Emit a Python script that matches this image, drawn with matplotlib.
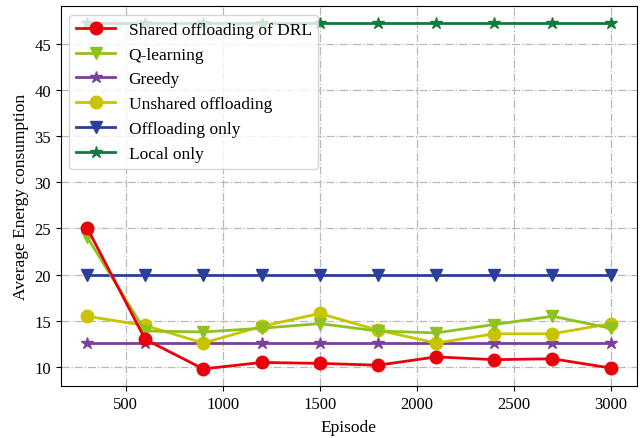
import matplotlib.pyplot as plt
import numpy as np

plt.rcParams['font.family'] = ['Liberation Serif', 'DejaVu Serif']

episodes = [300, 600, 900, 1200, 1500, 1800, 2100, 2400, 2700, 3000]
shared_drl = [25.1, 13.0, 9.8, 10.5, 10.4, 10.2, 11.1, 10.8, 10.9, 9.9]
q_learning = [24.1, 13.9, 13.8, 14.2, 14.7, 13.9, 13.7, 14.6, 15.5, 14.2]
greedy = [12.6] * 10
unshared = [15.5, 14.5, 12.6, 14.4, 15.8, 14.0, 12.6, 13.6, 13.6, 14.7]
offload_only = [20.0] * 10
local_only = [47.2] * 10

fig = plt.figure(figsize=(6.4, 4.39), dpi=100)
ax = fig.add_subplot(111)
ax.plot(episodes, shared_drl, "-o", color="#e8000b", lw=2, ms=9, label="Shared offloading of DRL", zorder=6)
ax.plot(episodes, q_learning, "-v", color="#8dc21f", lw=2, ms=9, label="Q-learning", zorder=5)
ax.plot(episodes, greedy, "-*", color="#7b3f9e", lw=2, ms=9, label="Greedy", zorder=3)
ax.plot(episodes, unshared, "-o", color="#c8c400", lw=2, ms=9, label="Unshared offloading", zorder=4)
ax.plot(episodes, offload_only, "-v", color="#2a3f98", lw=2, ms=9, label="Offloading only", zorder=3)
ax.plot(episodes, local_only, "-*", color="#127a3a", lw=2, ms=9, label="Local only", zorder=3)
ax.grid(True, ls="-.", color="#b8b8b8", lw=0.9)
ax.set_xticks([500, 1000, 1500, 2000, 2500, 3000])
ax.set_yticks([10, 15, 20, 25, 30, 35, 40, 45])
ax.tick_params(labelsize=12)
ax.set_xlabel("Episode", fontsize=12.5, labelpad=5)
ax.set_ylabel("Average Energy consumption", fontsize=12.5)
ax.legend(loc="upper left", fontsize=12.5, framealpha=0.8, handlelength=2.2)
plt.subplots_adjust(left=0.095, right=0.995, top=0.984, bottom=0.118)
plt.savefig("out.png")
